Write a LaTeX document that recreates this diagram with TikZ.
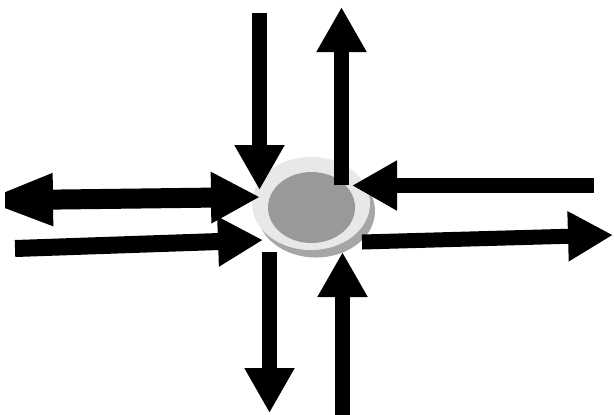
\documentclass[tikz,border=0pt]{standalone}
\usepackage{tikz}
\usetikzlibrary{arrows.meta,shapes.geometric}

\begin{document}
\begin{tikzpicture}[x=0.5pt,y=-0.5pt]
  \tikzstyle{disc}=[ellipse,inner sep=0pt,minimum width=59pt,minimum height=46.5pt]
  \tikzstyle{flow}=[line width=7.5pt,-{Triangle[length=22.5pt,width=23.5pt]}]
  \useasboundingbox (0,0) rectangle (614,414);
  % the hub with its shadow
  \node[disc,fill=black!35] (shadow) at (316,211) {};
  \node[disc,fill=black!9] (hub) at (311,203.5) {};
  \node[disc,fill=black!40,minimum width=43.5pt,minimum height=35.5pt] (core) at (311.5,207.5) {};
  % ends of the arrows
  \coordinate (northin) at (259.5,13);   \coordinate (northintip) at (259.5,190);
  \coordinate (northout) at (341.5,185); \coordinate (northouttip) at (341.5,7);
  \coordinate (southout) at (269.5,252); \coordinate (southouttip) at (269.5,413);
  \coordinate (southin) at (342.5,418);  \coordinate (southintip) at (342.5,252);
  \coordinate (eastin) at (594,185.5);   \coordinate (eastintip) at (352,185.5);
  \coordinate (eastout) at (362,242);    \coordinate (eastouttip) at (613,235);
  \coordinate (westin) at (15,248.5);    \coordinate (westintip) at (263,240);
  \coordinate (westfar) at (-20,200.5);  \coordinate (westnear) at (260,197);
  % arrows
  \draw[flow] (northin) -- (northintip);
  \draw[flow] (northout) -- (northouttip);
  \draw[flow] (southout) -- (southouttip);
  \draw[flow] (southin) -- (southintip);
  \draw[flow] (eastin) -- (eastintip);
  \draw[flow] (eastout) -- (eastouttip);
  \draw[flow,line width=8.5pt] (westin) -- (westintip);
  \begin{scope}
    \clip (5,0) rectangle (614,414);
    \draw[line width=10pt,{Triangle[length=36.5pt,width=23.5pt]}-{Triangle[length=24.5pt,width=24pt]}] (westfar) -- (westnear);
  \end{scope}
\end{tikzpicture}
\end{document}
